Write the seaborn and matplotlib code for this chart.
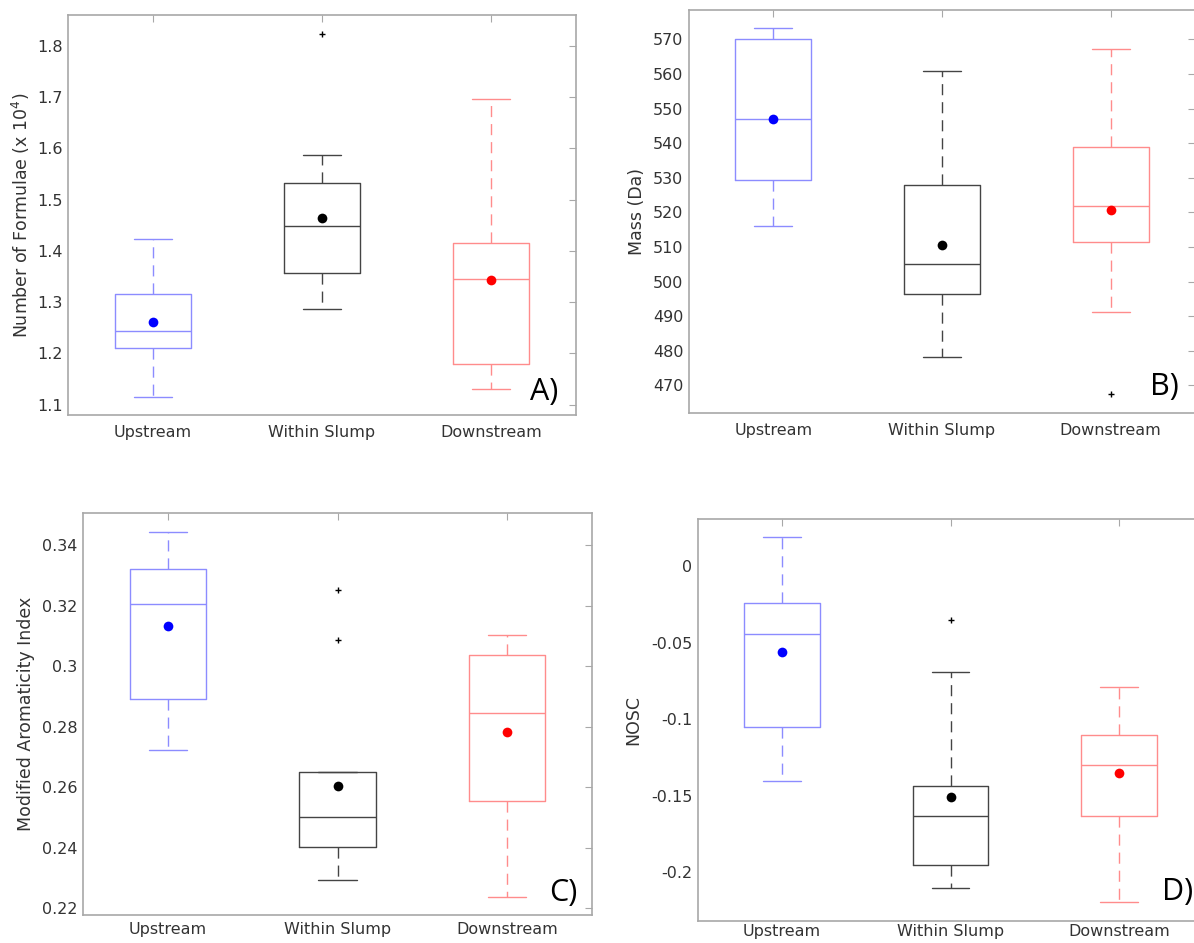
import pandas as pd
import matplotlib
matplotlib.use("Agg")
from matplotlib import pyplot as plt
from matplotlib.ticker import FormatStrFormatter
import seaborn as sns

# sites along the x axis
sites = ['Upstream', 'Within Slump', 'Downstream']

# A) number of formulae (x 10^4), values read off the boxes
formulae_upstream = [1.116, 1.18, 1.21, 1.23, 1.243, 1.28, 1.316, 1.37, 1.424]
formulae_slump = [1.286, 1.33, 1.356, 1.40, 1.449, 1.50, 1.533, 1.587, 1.823]
formulae_downstream = [1.13, 1.16, 1.18, 1.30, 1.346, 1.38, 1.416, 1.55, 1.697]
formulae_means = [1.261, 1.465, 1.343]

# B) mass (Da)
mass_upstream = [516.2, 524, 529.5, 540, 546.9, 560, 570.0, 571.5, 573.2]
mass_slump = [478.3, 490, 496.3, 500, 505.2, 515, 527.9, 545, 560.8]
mass_downstream = [467.4, 491.3, 511.3, 517, 521.9, 530, 538.9, 555, 567.1]
mass_means = [547.1, 510.7, 520.6]

# C) modified aromaticity index
ai_upstream = [0.2722, 0.282, 0.289, 0.305, 0.3205, 0.326, 0.332, 0.338, 0.3444]
ai_slump = [0.2294, 0.236, 0.2404, 0.245, 0.2501, 0.258, 0.2649, 0.3086, 0.3252]
ai_downstream = [0.2236, 0.240, 0.2556, 0.270, 0.2846, 0.295, 0.3038, 0.307, 0.3102]
ai_means = [0.3133, 0.2604, 0.2783]

# D) NOSC
nosc_upstream = [-0.1399, -0.12, -0.1049, -0.07, -0.044, -0.032, -0.0238, -0.005, 0.0192]
nosc_slump = [-0.2103, -0.20, -0.195, -0.18, -0.1632, -0.155, -0.1437, -0.0689, -0.0351]
nosc_downstream = [-0.2196, -0.19, -0.1628, -0.145, -0.1297, -0.12, -0.1101, -0.095, -0.0789]
nosc_means = [-0.056, -0.1509, -0.1353]

box_colors = ['#8c8cff', '#444444', '#ff8c8c']
mean_colors = ['#0000ff', '#000000', '#ff0000']
frame_color = '#a8a8a8'

sns.set_style('white')
plt.rcParams['font.family'] = ['DejaVu Sans']


def make_frame(up, slump, down):
    rows = []
    for name, vals in zip(sites, [up, slump, down]):
        for v in vals:
            rows.append({'site': name, 'value': v})
    return pd.DataFrame(rows)


def draw_panel(ax, df, means, ylabel, yticks, ylim, fmt, letter, letter_pos,
               ylabel_x, xpad=7):
    sns.boxplot(data=df, x='site', y='value', hue='site', order=sites,
                hue_order=sites, palette=box_colors, fill=False, width=0.45,
                linewidth=1, whis=1.5, legend=False, ax=ax,
                whiskerprops={'linestyle': (0, (8, 5))},
                flierprops={'marker': '+', 'markeredgecolor': 'black',
                            'markerfacecolor': 'black', 'markersize': 5})
    sns.stripplot(x=sites, y=means, hue=sites, palette=mean_colors,
                  jitter=False, size=7, linewidth=0, legend=False, ax=ax,
                  zorder=5)
    ax.set_xlim(-0.5, 2.5)
    ax.set_ylim(*ylim)
    ax.set_yticks(yticks)
    ax.yaxis.set_major_formatter(FormatStrFormatter(fmt))
    ax.set_xlabel('')
    ax.set_ylabel(ylabel, fontsize=12.5, color='#333333')
    ax.yaxis.set_label_coords(ylabel_x, 0.5)
    ax.tick_params(direction='in', length=5, color=frame_color,
                   labelcolor='#333333', labelsize=11.5, top=True, right=True)
    ax.tick_params(axis='x', labelsize=11.5, pad=xpad)
    ax.tick_params(axis='y', pad=4)
    for sp in ax.spines.values():
        sp.set_color(frame_color)
        sp.set_linewidth(1.2)
    ax.text(letter_pos[0], letter_pos[1], letter, transform=ax.transAxes,
            ha='center', va='center', fontsize=22, color='black',
            family='Open Sans')


fig = plt.figure(figsize=(11.94, 9.43), dpi=100)
W, H = 1194.0, 943.0
ax_a = fig.add_axes([68 / W, 1 - 415 / H, 508 / W, 400 / H])
ax_b = fig.add_axes([689 / W, 1 - 413 / H, 506 / W, 403 / H])
ax_c = fig.add_axes([83 / W, 1 - 915 / H, 509 / W, 402 / H])
ax_d = fig.add_axes([698 / W, 1 - 921 / H, 505 / W, 402 / H])

draw_panel(ax_a, make_frame(formulae_upstream, formulae_slump, formulae_downstream),
           formulae_means, 'Number of Formulae (x 10$^{4}$)',
           [1.1, 1.2, 1.3, 1.4, 1.5, 1.6, 1.7, 1.8], (1.08, 1.86), '%g',
           'A)', (0.937, 0.058), -0.071)
draw_panel(ax_b, make_frame(mass_upstream, mass_slump, mass_downstream),
           mass_means, 'Mass (Da)',
           [470, 480, 490, 500, 510, 520, 530, 540, 550, 560, 570], (462, 578.5), '%g',
           'B)', (0.94, 0.065), -0.085)
draw_panel(ax_c, make_frame(ai_upstream, ai_slump, ai_downstream),
           ai_means, 'Modified Aromaticity Index',
           [0.22, 0.24, 0.26, 0.28, 0.3, 0.32, 0.34], (0.2178, 0.3506), '%g',
           'C)', (0.943, 0.055), -0.095, xpad=5)
draw_panel(ax_d, make_frame(nosc_upstream, nosc_slump, nosc_downstream),
           nosc_means, 'NOSC',
           [-0.2, -0.15, -0.1, -0.05, 0], (-0.2317, 0.031), '%g',
           'D)', (0.95, 0.072), -0.11, xpad=2)

fig.savefig('out.png', dpi=100)
